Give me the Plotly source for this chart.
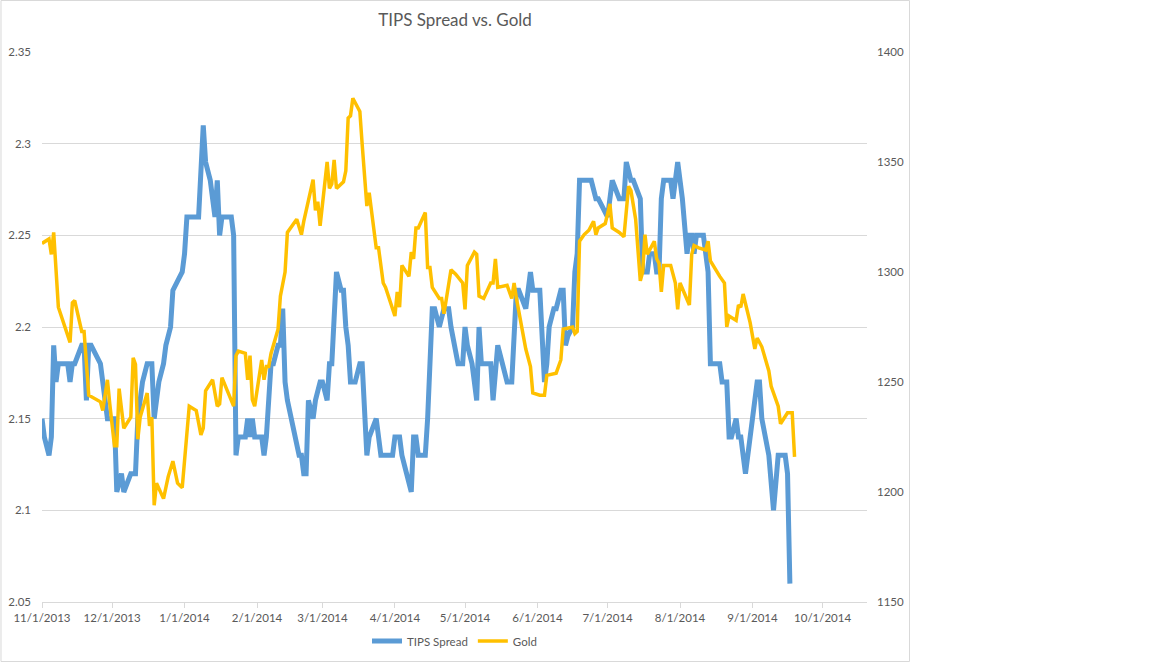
import plotly.graph_objects as go

# TIPS spread (left axis) - dates and values
tips_dates = [
    "2013-11-01", "2013-11-02", "2013-11-04", "2013-11-05", "2013-11-06", "2013-11-07", "2013-11-08",
    "2013-11-12", "2013-11-13", "2013-11-14", "2013-11-15", "2013-11-18", "2013-11-19", "2013-11-20",
    "2013-11-21", "2013-11-22", "2013-11-26", "2013-11-28", "2013-11-29", "2013-12-02", "2013-12-03",
    "2013-12-05", "2013-12-06", "2013-12-09", "2013-12-11", "2013-12-12", "2013-12-14", "2013-12-16",
    "2013-12-18", "2013-12-19", "2013-12-21", "2013-12-23", "2013-12-24", "2013-12-26", "2013-12-27",
    "2013-12-29", "2013-12-31", "2014-01-01", "2014-01-02", "2014-01-07", "2014-01-08", "2014-01-09",
    "2014-01-10", "2014-01-12", "2014-01-14", "2014-01-15", "2014-01-16", "2014-01-17", "2014-01-21",
    "2014-01-22", "2014-01-23", "2014-01-24", "2014-01-27", "2014-01-28", "2014-01-29", "2014-01-30",
    "2014-01-31", "2014-02-03", "2014-02-04", "2014-02-05", "2014-02-07", "2014-02-08", "2014-02-10",
    "2014-02-11", "2014-02-12", "2014-02-13", "2014-02-14", "2014-02-17", "2014-02-19", "2014-02-20",
    "2014-02-21", "2014-02-22", "2014-02-23", "2014-02-25", "2014-02-26", "2014-02-28", "2014-03-01",
    "2014-03-03", "2014-03-04", "2014-03-05", "2014-03-07", "2014-03-09", "2014-03-10", "2014-03-11",
    "2014-03-12", "2014-03-13", "2014-03-15", "2014-03-17", "2014-03-18", "2014-03-20", "2014-03-21",
    "2014-03-24", "2014-03-25", "2014-03-26", "2014-03-31", "2014-04-01", "2014-04-03", "2014-04-04",
    "2014-04-06", "2014-04-08", "2014-04-09", "2014-04-10", "2014-04-11", "2014-04-14", "2014-04-15",
    "2014-04-17", "2014-04-18", "2014-04-20", "2014-04-22", "2014-04-24", "2014-04-25", "2014-04-28",
    "2014-04-30", "2014-05-01", "2014-05-02", "2014-05-04", "2014-05-06", "2014-05-07", "2014-05-08",
    "2014-05-12", "2014-05-13", "2014-05-15", "2014-05-17", "2014-05-19", "2014-05-21", "2014-05-23",
    "2014-05-24", "2014-05-27", "2014-05-29", "2014-05-30", "2014-06-02", "2014-06-04", "2014-06-05",
    "2014-06-06", "2014-06-08", "2014-06-09", "2014-06-11", "2014-06-12", "2014-06-13", "2014-06-14",
    "2014-06-16", "2014-06-17", "2014-06-18", "2014-06-19", "2014-06-24", "2014-06-26", "2014-06-27",
    "2014-07-01", "2014-07-03", "2014-07-06", "2014-07-08", "2014-07-09", "2014-07-11", "2014-07-12",
    "2014-07-15", "2014-07-16", "2014-07-18", "2014-07-19", "2014-07-21", "2014-07-22", "2014-07-23",
    "2014-07-24", "2014-07-25", "2014-07-28", "2014-07-29", "2014-07-31", "2014-08-02", "2014-08-04",
    "2014-08-05", "2014-08-06", "2014-08-07", "2014-08-08", "2014-08-11", "2014-08-13", "2014-08-14",
    "2014-08-18", "2014-08-19", "2014-08-21", "2014-08-22", "2014-08-23", "2014-08-25", "2014-08-26",
    "2014-08-27", "2014-08-29", "2014-09-01", "2014-09-03", "2014-09-04", "2014-09-05", "2014-09-08",
    "2014-09-10", "2014-09-12", "2014-09-15", "2014-09-16", "2014-09-17",
]
tips_spread = [
    2.15, 2.14, 2.13, 2.14, 2.19, 2.17, 2.18,
    2.18, 2.17, 2.18, 2.18, 2.19, 2.19, 2.16,
    2.19, 2.19, 2.18, 2.16, 2.15, 2.15, 2.11,
    2.12, 2.11, 2.12, 2.12, 2.15, 2.17, 2.18,
    2.18, 2.15, 2.17, 2.18, 2.19, 2.20, 2.22,
    2.225, 2.23, 2.24, 2.26, 2.26, 2.29, 2.31,
    2.29, 2.28, 2.26, 2.28, 2.25, 2.26, 2.26,
    2.25, 2.13, 2.14, 2.14, 2.15, 2.14, 2.15,
    2.14, 2.14, 2.13, 2.14, 2.18, 2.18, 2.19,
    2.19, 2.21, 2.17, 2.16, 2.14, 2.13, 2.13,
    2.12, 2.12, 2.16, 2.15, 2.16, 2.17, 2.17,
    2.16, 2.18, 2.18, 2.23, 2.22, 2.22, 2.20,
    2.19, 2.17, 2.17, 2.18, 2.18, 2.13, 2.14,
    2.15, 2.14, 2.13, 2.13, 2.14, 2.14, 2.13,
    2.12, 2.11, 2.14, 2.14, 2.13, 2.13, 2.15,
    2.21, 2.21, 2.20, 2.21, 2.21, 2.20, 2.18,
    2.18, 2.20, 2.19, 2.18, 2.16, 2.20, 2.18,
    2.18, 2.16, 2.19, 2.18, 2.17, 2.17, 2.22,
    2.22, 2.21, 2.23, 2.22, 2.22, 2.17, 2.18,
    2.20, 2.21, 2.21, 2.22, 2.22, 2.19, 2.195,
    2.20, 2.23, 2.24, 2.28, 2.28, 2.27, 2.27,
    2.26, 2.28, 2.27, 2.27, 2.29, 2.28, 2.28,
    2.27, 2.23, 2.23, 2.24, 2.24, 2.23, 2.23,
    2.27, 2.28, 2.28, 2.27, 2.29, 2.27, 2.24,
    2.25, 2.25, 2.24, 2.25, 2.25, 2.23, 2.18,
    2.18, 2.17, 2.17, 2.14, 2.14, 2.15, 2.14,
    2.14, 2.12, 2.15, 2.17, 2.17, 2.15, 2.13,
    2.10, 2.13, 2.13, 2.12, 2.06,
]

# Gold price (right axis)
gold_dates = [
    "2013-11-01", "2013-11-04", "2013-11-05", "2013-11-06", "2013-11-08", "2013-11-13", "2013-11-14",
    "2013-11-15", "2013-11-18", "2013-11-19", "2013-11-21", "2013-11-26", "2013-11-27", "2013-11-29",
    "2013-11-30", "2013-12-02", "2013-12-03", "2013-12-04", "2013-12-06", "2013-12-09", "2013-12-10",
    "2013-12-11", "2013-12-12", "2013-12-13", "2013-12-16", "2013-12-17", "2013-12-18", "2013-12-19",
    "2013-12-20", "2013-12-23", "2013-12-25", "2013-12-27", "2013-12-29", "2013-12-31", "2014-01-03",
    "2014-01-06", "2014-01-08", "2014-01-09", "2014-01-10", "2014-01-13", "2014-01-15", "2014-01-16",
    "2014-01-17", "2014-01-20", "2014-01-22", "2014-01-23", "2014-01-24", "2014-01-27", "2014-01-28",
    "2014-01-29", "2014-01-30", "2014-01-31", "2014-02-03", "2014-02-04", "2014-02-05", "2014-02-06",
    "2014-02-07", "2014-02-10", "2014-02-11", "2014-02-13", "2014-02-14", "2014-02-18", "2014-02-20",
    "2014-02-21", "2014-02-25", "2014-02-26", "2014-02-27", "2014-02-28", "2014-03-03", "2014-03-04",
    "2014-03-05", "2014-03-06", "2014-03-07", "2014-03-10", "2014-03-11", "2014-03-12", "2014-03-13",
    "2014-03-14", "2014-03-17", "2014-03-18", "2014-03-20", "2014-03-21", "2014-03-24", "2014-03-25",
    "2014-03-27", "2014-03-28", "2014-04-01", "2014-04-02", "2014-04-03", "2014-04-04", "2014-04-07",
    "2014-04-08", "2014-04-09", "2014-04-10", "2014-04-11", "2014-04-14", "2014-04-15", "2014-04-16",
    "2014-04-17", "2014-04-20", "2014-04-21", "2014-04-22", "2014-04-23", "2014-04-25", "2014-04-27",
    "2014-04-30", "2014-05-01", "2014-05-02", "2014-05-05", "2014-05-06", "2014-05-07", "2014-05-09",
    "2014-05-12", "2014-05-13", "2014-05-14", "2014-05-15", "2014-05-19", "2014-05-21", "2014-05-22",
    "2014-05-23", "2014-05-27", "2014-05-29", "2014-05-30", "2014-06-02", "2014-06-04", "2014-06-05",
    "2014-06-09", "2014-06-11", "2014-06-12", "2014-06-16", "2014-06-17", "2014-06-18", "2014-06-19",
    "2014-06-21", "2014-06-23", "2014-06-25", "2014-06-26", "2014-06-27", "2014-06-30", "2014-07-02",
    "2014-07-03", "2014-07-06", "2014-07-08", "2014-07-10", "2014-07-11", "2014-07-13", "2014-07-15",
    "2014-07-16", "2014-07-17", "2014-07-18", "2014-07-21", "2014-07-22", "2014-07-23", "2014-07-24",
    "2014-07-25", "2014-07-28", "2014-07-30", "2014-07-31", "2014-08-01", "2014-08-03", "2014-08-05",
    "2014-08-06", "2014-08-07", "2014-08-09", "2014-08-12", "2014-08-13", "2014-08-14", "2014-08-18",
    "2014-08-20", "2014-08-21", "2014-08-22", "2014-08-25", "2014-08-26", "2014-08-27", "2014-08-28",
    "2014-08-31", "2014-09-02", "2014-09-03", "2014-09-05", "2014-09-08", "2014-09-09", "2014-09-12",
    "2014-09-13", "2014-09-16", "2014-09-18", "2014-09-19",
]
gold_price = [
    1313, 1315, 1308, 1318, 1284, 1268, 1286,
    1287, 1273, 1273, 1244, 1241, 1237, 1251,
    1240, 1221, 1221, 1247, 1229, 1234, 1261,
    1258, 1224, 1234, 1245, 1230, 1234, 1194,
    1204, 1197, 1207, 1214, 1204, 1202, 1239,
    1237, 1226, 1229, 1246, 1251, 1239, 1240,
    1252, 1244, 1239, 1262, 1264, 1263, 1251,
    1262, 1242, 1239, 1260, 1251, 1257, 1257,
    1263, 1274, 1289, 1300, 1318, 1324, 1317,
    1323, 1342, 1328, 1332, 1321, 1350, 1338,
    1340, 1351, 1338, 1341, 1346, 1370, 1371,
    1379, 1373, 1358, 1330, 1336, 1311, 1311,
    1295, 1293, 1280, 1291, 1284, 1303, 1298,
    1309, 1306, 1320, 1320, 1327, 1302, 1302,
    1293, 1288, 1288, 1281, 1287, 1301, 1299,
    1295, 1283, 1303, 1309, 1308, 1289, 1288,
    1295, 1295, 1306, 1293, 1294, 1288, 1295,
    1288, 1265, 1257, 1245, 1244, 1244, 1253,
    1254, 1260, 1274, 1275, 1272, 1273, 1314,
    1317, 1319, 1323, 1317, 1320, 1322, 1331,
    1320, 1318, 1316, 1339, 1337, 1324, 1296,
    1300, 1317, 1308, 1314, 1306, 1304, 1291,
    1303, 1303, 1295, 1283, 1295, 1290, 1285,
    1308, 1312, 1311, 1310, 1314, 1305, 1298,
    1295, 1275, 1280, 1278, 1285, 1284, 1290,
    1277, 1265, 1270, 1266, 1255, 1248, 1239,
    1231, 1236, 1236, 1216,
]

left_ticks = [2.05, 2.1, 2.15, 2.2, 2.25, 2.3, 2.35]
left_labels = ["2.05", "2.1", "2.15", "2.2", "2.25", "2.3", "2.35"]
right_ticks = [1150, 1200, 1250, 1300, 1350, 1400]

TEXT = "#595959"
GRID = "#d9d9d9"
FONT = "Lato, 'Open Sans', sans-serif"

fig = go.Figure()

fig.add_trace(go.Scatter(
    x=tips_dates, y=tips_spread, name="TIPS Spread", mode="lines",
    line=dict(color="#5b9bd5", width=5),
))
fig.add_trace(go.Scatter(
    x=gold_dates, y=gold_price, name="Gold", mode="lines", yaxis="y2",
    line=dict(color="#ffc000", width=3.5),
))

# chart frame around the whole chart area (Excel style)
fig.add_shape(
    type="rect", xref="paper", yref="paper",
    x0=-0.0497, x1=1.0515, y0=-0.1082, y1=1.0936,
    line=dict(color=GRID, width=1), fillcolor="rgba(0,0,0,0)", layer="below",
)

fig.update_layout(
    width=1152, height=662,
    margin=dict(l=42, r=285, t=52, b=60, autoexpand=False),
    paper_bgcolor="white", plot_bgcolor="white",
    font=dict(family=FONT, size=12, color=TEXT),
    title=dict(
        text="TIPS Spread vs. Gold", x=(455 - 42) / 825, xref="paper", xanchor="center",
        y=1 - 20 / 662, yanchor="middle", automargin=False,
        font=dict(family=FONT, size=17, color=TEXT),
    ),
    showlegend=True,
    legend=dict(
        orientation="h", x=0.5, xanchor="center", y=-0.071, yanchor="middle",
        font=dict(size=11.5, color=TEXT), itemwidth=30,
    ),
    xaxis=dict(
        type="date", range=["2013-11-01", "2014-10-20"],
        tick0="2013-11-01", dtick="M1", tickformat="%-m/%-d/%Y",
        showgrid=False, showline=True, linecolor=GRID, linewidth=1,
        ticks="outside", ticklen=5, tickcolor=GRID, automargin=False,
        tickfont=dict(size=11.5, color=TEXT), zeroline=False,
    ),
    yaxis=dict(
        range=[2.05, 2.35], tickvals=left_ticks, ticktext=left_labels,
        showgrid=True, gridcolor=GRID, gridwidth=1, zeroline=False,
        showline=False, ticks="", ticklabelstandoff=10, automargin=False,
        tickfont=dict(size=11.5, color=TEXT),
    ),
    yaxis2=dict(
        range=[1150, 1400], tickvals=right_ticks, overlaying="y", side="right",
        showgrid=False, zeroline=False, showline=False, ticks="", automargin=False,
        ticklabelstandoff=9, tickfont=dict(size=11.5, color=TEXT),
    ),
)

# the page body has a default 8px margin; drop it so the chart sits at the window corner
fig.write_html(
    "out.html",
    config={"displayModeBar": False},
    post_script="document.body.style.margin='0px'; document.body.style.overflow='hidden';",
)
